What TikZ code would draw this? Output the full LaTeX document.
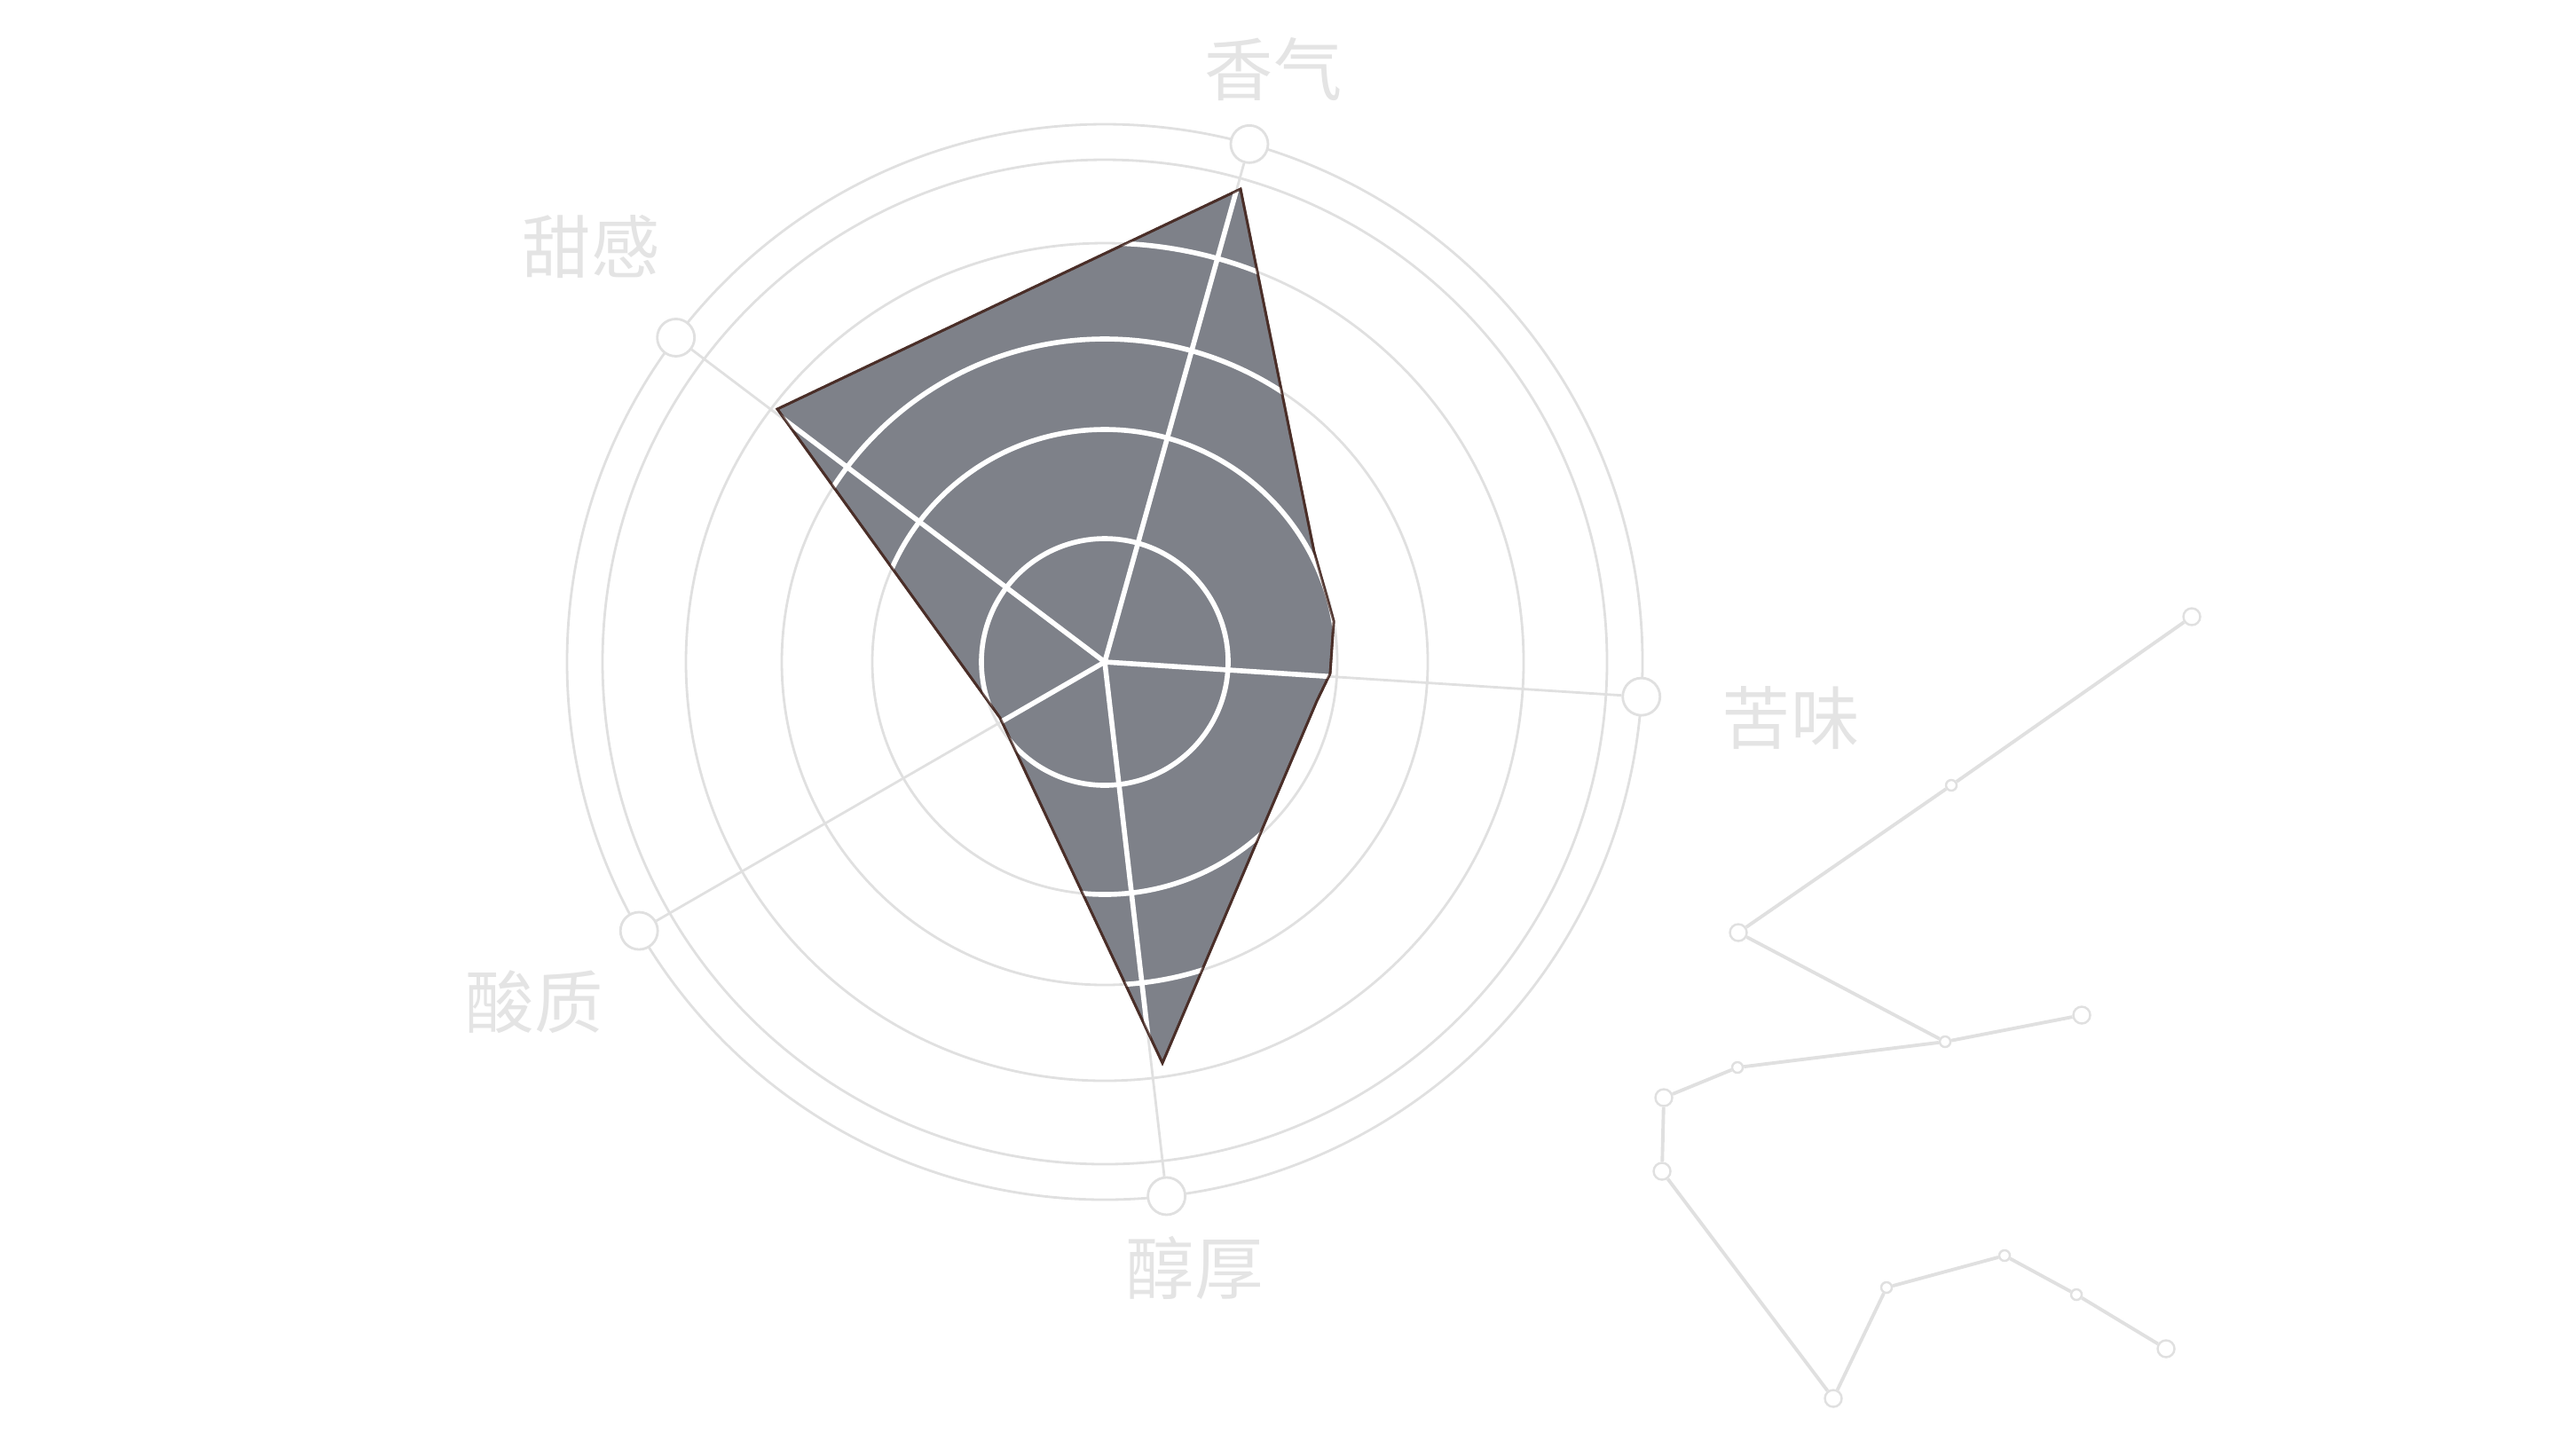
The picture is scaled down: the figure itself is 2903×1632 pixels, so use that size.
\documentclass[tikz,border=0pt]{standalone}
\usepackage{fontspec}
\newfontfamily\cjk{Noto Sans CJK SC}
\usetikzlibrary{calc}
\definecolor{polyfill}{RGB}{126,129,137}
\definecolor{polyedge}{RGB}{74,46,40}
\definecolor{gridgray}{RGB}{224,224,224}
\definecolor{labelgray}{RGB}{228,228,228}
\newcommand{\tasteshape}{(1398,213) -- (1481,622) -- (1503,700) -- (1499,759) -- (1484,790) -- (1310,1198) -- (1127,809) -- (876,461) -- cycle}

\begin{document}
\begin{tikzpicture}[x=0.01cm,y=-0.01cm,
    ring/.style={draw=gridgray, line width=0.8pt},
    innerline/.style={draw=white, line width=1.6pt},
    endmark/.style={circle, draw=gridgray, line width=0.8pt, fill=white, minimum size=0.42cm, inner sep=0pt},
    axislabel/.style={font=\cjk\fontsize{22}{26}\selectfont, text=labelgray},
    chainline/.style={draw=gridgray, line width=1.1pt},
    bigdot/.style={circle, draw=gridgray, fill=white, line width=0.7pt, minimum size=0.19cm, inner sep=0pt},
    smalldot/.style={bigdot, minimum size=0.12cm}]
		\useasboundingbox (0,0) rectangle (2903,1632);
		\coordinate (Center) at (1245,746);

		\foreach \r in {139,262,364,472,566,606}{% rings of the radar
		  \draw[ring] (Center) circle (\r);
		}
		\foreach \name/\ang in {aroma/-74.4, bitter/3.7, body/83.4, acid/150, sweet/-142.9}{% one marker per axis
		  \node[endmark] (\name) at ($(Center)+(\ang:606)$) {};
		  \draw[ring] (Center) -- (\name);
		}

		\filldraw[fill=polyfill, draw=polyedge, line width=0.8pt] \tasteshape;
		\begin{scope}
		  \clip \tasteshape; % grid shows white on the gray area
		  \foreach \r in {139,262,364,472,566}{
		    \draw[innerline] (Center) circle (\r);
		  }
		  \foreach \name in {aroma,bitter,body,acid,sweet}{
		    \draw[innerline] (Center) -- (\name.center);
		  }
		\end{scope}
		\draw[polyedge, line width=0.8pt, opacity=0.8] \tasteshape;

		\node[axislabel] (aromalabel)  at (1435,78)   {香气};
		\node[axislabel] (sweetlabel)  at (666,278)   {甜感};
		\node[axislabel] (bitterlabel) at (2018,809)  {苦味};
		\node[axislabel] (acidlabel)   at (602,1129)  {酸质};
		\node[axislabel] (bodylabel)   at (1346,1429) {醇厚};

		% the line of dots on the right
		\foreach \n/\x/\y/\s in {p1/2470/695/bigdot, p2/2199/885/smalldot, p3/1959/1051/bigdot,
		    p4/2192/1174/smalldot, p5/2346/1144/bigdot, p6/1958/1203/smalldot, p7/1875/1237/bigdot,
		    p8/1873/1320/bigdot, p9/2066/1576/bigdot, p10/2126/1451/smalldot, p11/2259/1415/smalldot,
		    p12/2340/1459/smalldot, p13/2441/1520/bigdot}{
		  \node[\s] (\n) at (\x,\y) {};
		}
		\foreach \a/\b in {p1/p2, p2/p3, p3/p4, p4/p5, p4/p6, p6/p7, p7/p8, p8/p9, p9/p10, p10/p11, p11/p12, p12/p13}{
		  \draw[chainline] (\a) -- (\b);
		}
\end{tikzpicture}
\end{document}
